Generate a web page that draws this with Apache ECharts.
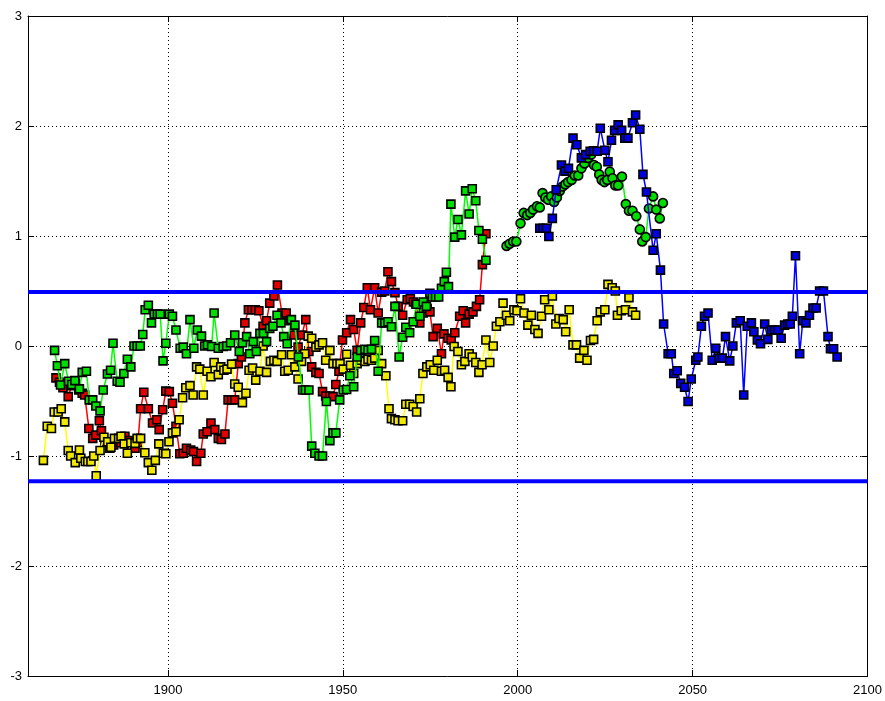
<!DOCTYPE html>
<html>
<head>
<meta charset="utf-8">
<script src="https://cdn.jsdelivr.net/npm/echarts@6/dist/echarts.min.js"></script>
<style>
  html, body { margin: 0; padding: 0; background: #fff; }
  #chart { width: 885px; height: 701px; }
</style>
</head>
<body>
<div id="chart"></div>
<script>
// Index series, [year, value]
const yellowSeries = [
  [1864.4,-1.04],[1865.5,-0.73],[1866.7,-0.75],[1867.5,-0.6],[1868.6,-0.6],[1869.5,-0.57],[1870.5,-0.69],
  [1871.5,-0.95],[1872.2,-1.0],[1873.5,-1.06],[1874.7,-0.945],[1875.1,-1.02],[1876.4,-1.05],[1877.1,-1.05],
  [1878.0,-1.05],[1878.8,-1.0],[1879.5,-1.18],[1880.6,-0.95],[1881.7,-0.83],[1882.8,-0.87],[1883.7,-0.92],
  [1884.7,-0.84],[1885.9,-0.84],[1886.6,-0.82],[1887.5,-0.89],[1888.4,-0.975],[1889.4,-0.88],[1890.6,-0.885],
  [1891.2,-0.84],[1892.2,-0.84],[1893.4,-0.97],[1894.4,-1.06],[1895.4,-1.13],[1896.4,-1.04],[1897.4,-0.89],
  [1898.7,-0.975],[1899.4,-0.98],[1900.3,-0.87],[1901.3,-0.79],[1902.3,-0.78],[1903.2,-0.67],[1904.2,-0.47],
  [1905.1,-0.38],[1906.3,-0.36],[1907.2,-0.445],[1908.2,-0.19],[1909.1,-0.21],[1910.1,-0.445],[1911.2,-0.23],
  [1912.3,-0.28],[1913.2,-0.15],[1914.4,-0.26],[1915.1,-0.19],[1916.0,-0.22],[1916.9,-0.21],[1918.2,-0.165],
  [1919.1,-0.345],[1920.1,-0.375],[1921.3,-0.515],[1922.3,-0.43],[1923.2,-0.22],[1924.2,-0.2],[1925.1,-0.31],
  [1926.3,-0.23],[1927.2,0.0],[1928.2,-0.24],[1929.3,-0.14],[1930.3,-0.13],[1931.2,-0.14],[1932.5,-0.08],
  [1933.4,-0.23],[1934.4,-0.22],[1935.3,-0.08],[1936.3,-0.19],[1937.2,-0.3],[1938.2,-0.14],[1939.1,-0.07],
  [1940.1,0.09],[1941.1,0.07],[1942.3,-0.01],[1943.2,0.01],[1944.2,0.03],[1945.1,-0.13],[1946.3,-0.04],
  [1947.2,-0.16],[1948.3,-0.16],[1949.2,-0.16],[1950.1,-0.21],[1951.1,-0.075],[1952.2,-0.175],[1953.1,-0.25],
  [1954.1,-0.16],[1955.1,-0.13],[1956.3,-0.14],[1957.2,-0.12],[1958.2,-0.13],[1959.1,-0.11],[1960.1,-0.04],
  [1961.1,-0.16],[1962.3,-0.27],[1963.2,-0.57],[1963.9,-0.66],[1964.9,-0.67],[1965.8,-0.68],[1967.1,-0.68],
  [1968.0,-0.53],[1969.1,-0.53],[1970.1,-0.55],[1971.1,-0.6],[1972.0,-0.48],[1972.9,-0.25],[1974.0,-0.19],
  [1975.0,-0.17],[1976.0,-0.22],[1977.0,-0.13],[1978.2,-0.23],[1979.1,-0.22],[1980.1,-0.285],[1980.9,-0.37],
  [1981.8,-0.005],[1982.9,-0.05],[1983.9,-0.17],[1984.9,-0.14],[1986.1,-0.07],[1987.0,-0.1],[1988.0,-0.15],
  [1988.9,-0.24],[1989.8,-0.17],[1990.9,0.055],[1992.0,-0.15],[1993.0,0.0],[1993.9,0.18],[1994.9,0.22],
  [1995.8,0.39],[1996.8,0.28],[1997.7,0.23],[1998.9,0.33],[1999.8,0.32],[2000.8,0.43],[2001.8,0.30],
  [2002.9,0.19],[2003.9,0.28],[2004.9,0.15],[2005.8,0.115],[2006.8,0.27],[2007.7,0.42],[2008.9,0.33],
  [2009.9,0.455],[2010.9,0.2],[2011.8,0.25],[2013.0,0.24],[2013.7,0.13],[2014.7,0.33],[2015.8,0.01],
  [2016.8,0.01],[2017.7,-0.11],[2018.9,-0.04],[2019.8,-0.13],[2020.8,0.05],[2021.7,0.06],[2022.7,0.23],
  [2023.6,0.31],[2024.9,0.33],[2025.8,0.56],[2027.0,0.53],[2027.9,0.5],[2028.5,0.28],[2029.6,0.32],
  [2030.8,0.33],[2031.8,0.44],[2032.8,0.31],[2033.7,0.28]
];

const redSeries = [
  [1868.0,-0.29],[1869.0,-0.33],[1870.0,-0.38],[1871.5,-0.46],[1872.5,-0.36],[1873.5,-0.34],[1874.5,-0.4],
  [1875.5,-0.43],[1876.2,-0.445],[1877.4,-0.75],[1878.5,-0.84],[1879.4,-0.81],[1880.4,-0.68],[1881.0,-0.77],
  [1882.0,-0.87],[1883.4,-0.93],[1884.5,-0.9],[1885.5,-0.86],[1886.5,-0.88],[1887.7,-0.82],[1888.6,-0.86],
  [1889.6,-0.9],[1890.6,-0.93],[1891.4,-0.88],[1892.2,-0.57],[1893.1,-0.42],[1894.4,-0.57],[1895.6,-0.70],
  [1896.8,-0.67],[1897.5,-0.76],[1898.5,-0.58],[1899.4,-0.41],[1900.4,-0.415],[1901.3,-0.52],[1902.3,-0.73],
  [1903.4,-0.98],[1904.4,-0.975],[1905.3,-0.93],[1906.5,-0.945],[1907.3,-0.96],[1908.2,-1.05],[1909.4,-0.975],
  [1910.1,-0.8],[1911.2,-0.78],[1912.3,-0.70],[1913.4,-0.76],[1914.4,-0.84],[1915.3,-0.85],[1916.3,-0.8],
  [1917.2,-0.49],[1918.2,-0.49],[1919.1,-0.49],[1920.1,-0.16],[1921.0,-0.1],[1922.0,0.21],[1923.0,0.33],
  [1924.0,0.33],[1925.0,0.33],[1926.0,0.32],[1927.2,0.18],[1928.2,0.23],[1929.1,0.39],[1930.3,0.455],
  [1931.3,0.555],[1932.6,0.30],[1933.8,0.30],[1934.9,0.23],[1936.0,0.1],[1937.2,-0.01],[1938.3,0.1],
  [1939.4,0.24],[1940.3,-0.05],[1941.1,-0.19],[1942.3,-0.24],[1943.2,-0.25],[1944.2,-0.415],[1945.1,-0.455],
  [1946.3,-0.455],[1947.2,-0.46],[1948.0,-0.35],[1948.9,-0.23],[1949.9,0.055],[1951.1,0.12],[1952.2,0.24],
  [1953.1,0.15],[1954.1,-0.04],[1955.1,0.21],[1956.0,0.35],[1957.0,0.53],[1957.9,0.33],[1959.1,0.53],
  [1960.1,0.30],[1961.1,0.49],[1962.0,0.50],[1962.9,0.675],[1963.9,0.585],[1964.9,0.485],[1965.8,0.36],
  [1967.1,0.28],[1968.4,0.42],[1969.3,0.43],[1970.2,0.40],[1970.9,0.38],[1972.0,0.21],[1973.0,0.30],
  [1974.1,0.34],[1974.9,0.31],[1975.8,0.085],[1977.0,0.16],[1978.2,-0.07],[1978.9,0.11],[1980.1,0.07],
  [1981.0,0.055],[1982.0,0.12],[1983.4,0.27],[1984.4,0.32],[1985.1,0.21],[1986.1,0.29],[1987.2,0.31],
  [1988.2,0.36],[1989.1,0.42],[1989.9,0.74],[1990.9,1.02]
];

const greenSeries = [
  [1867.6,-0.04],[1868.4,-0.18],[1869.3,-0.355],[1870.5,-0.16],[1871.6,-0.32],[1872.5,-0.35],[1873.4,-0.315],
  [1874.7,-0.39],[1875.5,-0.24],[1876.7,-0.23],[1877.5,-0.49],[1878.5,-0.49],[1879.4,-0.545],[1880.6,-0.59],
  [1881.5,-0.40],[1882.7,-0.255],[1883.6,-0.22],[1884.3,0.025],[1885.5,-0.32],[1886.3,-0.33],[1887.4,-0.25],
  [1888.4,-0.12],[1889.4,-0.19],[1890.3,0.0],[1891.2,0.0],[1892.1,0.0],[1892.8,0.105],[1893.5,0.33],
  [1894.4,0.37],[1895.3,0.21],[1896.1,0.29],[1897.0,0.29],[1897.8,0.29],[1898.6,-0.135],[1899.4,0.025],
  [1900.4,0.29],[1901.3,0.27],[1902.3,0.145],[1903.5,-0.02],[1904.4,-0.01],[1905.3,-0.07],[1906.3,0.24],
  [1907.4,-0.02],[1908.4,0.145],[1909.6,0.09],[1910.5,0.0],[1911.3,0.01],[1912.5,-0.005],[1913.2,0.30],
  [1914.4,-0.02],[1915.8,-0.005],[1916.8,0.0],[1917.9,0.03],[1919.1,0.1],[1920.4,-0.05],[1921.3,0.03],
  [1922.5,0.085],[1923.4,-0.07],[1924.4,0.04],[1925.3,-0.05],[1926.3,0.115],[1927.3,0.115],[1928.2,0.04],
  [1929.1,0.16],[1930.0,0.18],[1931.2,0.28],[1932.3,0.21],[1933.1,0.085],[1934.1,0.02],[1935.3,0.24],
  [1936.3,0.19],[1937.3,-0.1],[1938.5,-0.4],[1939.3,-0.4],[1940.3,-0.4],[1941.1,-0.91],[1942.0,-0.975],
  [1943.2,-1.0],[1944.2,-1.0],[1945.3,-0.505],[1946.3,-0.86],[1947.2,-0.79],[1948.0,-0.79],[1949.1,-0.49],
  [1950.1,-0.4],[1951.1,-0.395],[1952.0,-0.27],[1953.1,-0.37],[1954.1,-0.1],[1955.1,-0.04],[1956.3,-0.03],
  [1957.2,-0.035],[1958.2,-0.03],[1959.1,0.05],[1960.1,-0.23],[1961.1,0.21],[1962.0,0.21],[1962.9,0.22],
  [1963.9,0.175],[1964.9,0.36],[1966.1,-0.1],[1967.1,0.08],[1968.0,0.17],[1969.1,0.12],[1970.1,0.22],
  [1971.1,0.38],[1972.0,0.27],[1973.0,0.40],[1973.9,0.36],[1974.9,0.48],[1975.6,0.445],[1976.5,0.445],
  [1977.4,0.445],[1978.2,0.525],[1979.0,0.585],[1979.6,0.67],[1980.2,0.54],[1980.9,1.29],[1982.0,0.99],
  [1982.9,1.15],[1983.9,1.01],[1985.1,1.41],[1986.1,1.2],[1987.0,1.43],[1988.0,1.32],[1988.9,1.05],
  [1989.9,0.97],[1990.9,0.78]
];

const circleSeries = [
  [1996.8,0.91],[1997.7,0.93],[1998.7,0.95],[1999.6,0.95],[2000.8,1.115],[2001.7,1.21],[2002.7,1.19],
  [2003.6,1.21],[2004.4,1.24],[2005.5,1.27],[2006.3,1.26],[2007.1,1.39],[2007.9,1.35],[2008.7,1.33],
  [2009.6,1.36],[2010.4,1.31],[2011.2,1.35],[2012.0,1.41],[2012.8,1.45],[2013.6,1.47],[2014.4,1.49],
  [2015.4,1.51],[2016.3,1.55],[2017.3,1.55],[2018.2,1.615],[2019.1,1.66],[2020.1,1.71],[2021.0,1.74],
  [2021.8,1.645],[2022.6,1.63],[2023.3,1.56],[2024.0,1.51],[2024.8,1.49],[2025.6,1.51],[2026.3,1.585],
  [2027.1,1.525],[2027.9,1.46],[2028.7,1.46],[2029.8,1.54],[2030.9,1.29],[2031.8,1.23],[2032.8,1.23],
  [2033.9,1.18],[2034.9,1.06],[2035.6,0.95],[2036.6,0.99],[2037.5,1.25],[2038.7,1.36],[2039.6,1.24],
  [2040.6,1.16],[2041.5,1.30]
];

const blueSeries = [
  [2006.3,1.07],[2007.2,1.07],[2008.2,1.07],[2008.9,0.995],[2009.9,1.16],[2011.0,1.42],[2012.5,1.645],
  [2013.5,1.59],[2014.5,1.615],[2015.8,1.89],[2016.9,1.83],[2018.2,1.71],[2019.4,1.74],[2020.7,1.77],
  [2021.7,1.775],[2022.7,1.77],[2023.6,1.98],[2024.9,1.78],[2025.8,1.675],[2026.8,1.87],[2027.7,1.96],
  [2028.7,2.01],[2029.7,1.96],[2030.6,1.89],[2031.5,1.89],[2032.8,2.03],[2033.7,2.1],[2034.9,1.97],
  [2035.8,1.56],[2036.8,1.40],[2038.7,0.87],[2039.6,1.02],[2040.8,0.69],[2041.7,0.2],[2043.0,-0.07],
  [2043.9,-0.07],[2044.6,-0.25],[2045.6,-0.225],[2046.6,-0.34],[2047.7,-0.375],[2048.7,-0.505],[2049.6,-0.3],
  [2050.9,-0.13],[2051.5,-0.1],[2052.5,0.18],[2053.4,0.27],[2054.4,0.30],[2055.6,-0.13],[2056.6,-0.02],
  [2057.5,-0.11],[2058.5,-0.11],[2059.4,0.085],[2060.6,-0.135],[2061.5,0.0],[2062.5,0.21],[2063.6,0.23],
  [2064.6,-0.445],[2065.6,0.18],[2066.8,0.21],[2067.5,0.13],[2068.5,0.055],[2069.4,0.02],[2070.6,0.2],
  [2071.5,0.06],[2072.5,0.145],[2073.4,0.145],[2074.4,0.145],[2075.3,0.07],[2076.3,0.19],[2077.2,0.2],
  [2077.9,0.2],[2078.5,0.27],[2079.4,0.82],[2080.6,-0.07],[2081.5,0.23],[2082.4,0.21],[2083.4,0.28],
  [2084.4,0.345],[2085.3,0.345],[2086.3,0.5],[2087.4,0.5],[2088.7,0.085],[2089.4,-0.025],[2090.3,-0.025],
  [2091.3,-0.1]
];

// Upper and lower threshold levels
const thresholds = [0.49, -1.23];

const xRange = [1860, 2100];
const xTicks = [1900, 1950, 2000, 2050, 2100];
const yRange = [-3, 3];

const FONT = 'Liberation Sans, Arial, sans-serif';

function markerSeries(name, data, lineColor, fillColor, symbol, z) {
  return {
    name, type: 'line', data, z,
    symbol, symbolSize: symbol === 'circle' ? 9 : 8,
    showAllSymbol: true,
    lineStyle: { color: lineColor, width: 1.5 },
    itemStyle: { color: fillColor, borderColor: '#000', borderWidth: 1.6 },
    emphasis: { disabled: true },
    animation: false
  };
}

const axisLine = { show: true, onZero: false, lineStyle: { color: '#000', width: 1 } };
const inTick = { show: true, inside: true, length: 6, lineStyle: { color: '#000', width: 1 } };
const dotted = { show: true, lineStyle: { color: '#000', width: 1, type: [1, 3] } };

const chart = echarts.init(document.getElementById('chart'), null, { renderer: 'canvas' });
chart.setOption({
  backgroundColor: '#fff',
  animation: false,
  grid: { left: 28, right: 17, top: 16, bottom: 25, show: false },
  xAxis: [
    {
      type: 'value', min: xRange[0], max: xRange[1], position: 'bottom',
      axisLine, axisTick: { ...inTick, customValues: xTicks },
      axisLabel: {
        customValues: xTicks, color: '#000', fontFamily: FONT, fontSize: 13, margin: 8,
        formatter: v => String(v)
      },
      splitLine: dotted
    },
    {
      type: 'value', min: xRange[0], max: xRange[1], position: 'top',
      axisLine, axisTick: { ...inTick, customValues: xTicks },
      axisLabel: { show: false }, splitLine: { show: false }
    }
  ],
  yAxis: [
    {
      type: 'value', min: yRange[0], max: yRange[1], interval: 1, position: 'left',
      axisLine, axisTick: inTick,
      axisLabel: { color: '#000', fontFamily: FONT, fontSize: 13, margin: 6 },
      splitLine: dotted
    },
    {
      type: 'value', min: yRange[0], max: yRange[1], interval: 1, position: 'right',
      axisLine, axisTick: inTick, axisLabel: { show: false }, splitLine: { show: false }
    }
  ],
  series: [
    markerSeries('red', redSeries, '#ff0000', '#e00000', 'rect', 3),
    markerSeries('yellow', yellowSeries, '#ffff00', '#f0e800', 'rect', 4),
    markerSeries('green', greenSeries, '#00ff00', '#00dd00', 'rect', 5),
    markerSeries('greenCircles', circleSeries, '#00ff00', '#00dd00', 'circle', 6),
    markerSeries('blue', blueSeries, '#0000ff', '#0000e0', 'rect', 7),
    ...thresholds.map((v, i) => ({
      name: 'threshold' + i, type: 'line', z: 8, symbol: 'none',
      data: [[xRange[0], v], [xRange[1], v]],
      lineStyle: { color: '#0000ff', width: 4 },
      emphasis: { disabled: true }, animation: false
    }))
  ]
});
</script>
</body>
</html>
